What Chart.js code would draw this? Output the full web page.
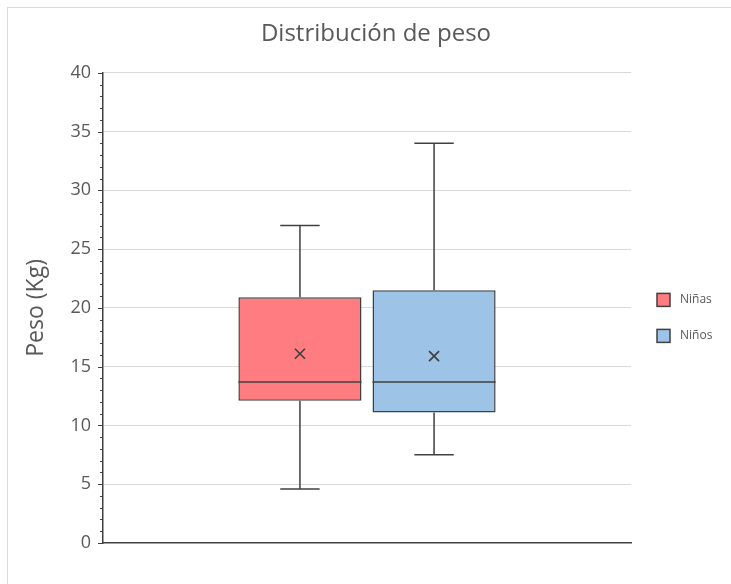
<!DOCTYPE html>
<html>
<head>
<meta charset="utf-8">
<script src="https://cdn.jsdelivr.net/npm/chart.js@4"></script>
<style>
  html, body { margin: 0; padding: 0; background: #ffffff; }
  #frame { position: absolute; left: 7px; top: 7px; width: 740px; height: 600px; border: 1px solid #d9d9d9; box-sizing: border-box; }
  #wrap { position: absolute; left: 0; top: 0; width: 731px; height: 584px; }
</style>
</head>
<body>
<div id="frame"></div>
<div id="wrap"><canvas id="c" width="731" height="584"></canvas></div>
<script>
const categories = [''];
const seriesNames = ['Niñas', 'Niños'];
const minVals = [4.6, 7.5];
const q1Vals = [12.1, 11.1];
const medianVals = [13.7, 13.7];
const q3Vals = [20.9, 21.5];
const maxVals = [27, 34];
const meanVals = [16.1, 15.9];
const fillColors = ['#ff7c80', '#9dc3e6'];
const yTicks = [0, 5, 10, 15, 20, 25, 30, 35, 40];

const TEXT = '#595959';
const LINE = '#404040';

const boxPlugin = {
  id: 'boxParts',
  afterDatasetsDraw(chart) {
    const ctx = chart.ctx;
    const y = chart.scales.y;
    chart.data.datasets.forEach((ds, i) => {
      const meta = chart.getDatasetMeta(i);
      meta.data.forEach((bar) => {
        const x = bar.x;
        const w = bar.width;
        const capHalf = w * 0.16;
        ctx.save();
        ctx.strokeStyle = LINE;
        ctx.lineWidth = 1.5;
        const yMax = y.getPixelForValue(maxVals[i]);
        const yMin = y.getPixelForValue(minVals[i]);
        const yQ3 = y.getPixelForValue(q3Vals[i]);
        const yQ1 = y.getPixelForValue(q1Vals[i]);
        ctx.beginPath();
        ctx.moveTo(x, yQ3); ctx.lineTo(x, yMax);
        ctx.moveTo(x - capHalf, yMax); ctx.lineTo(x + capHalf, yMax);
        ctx.moveTo(x, yQ1); ctx.lineTo(x, yMin);
        ctx.moveTo(x - capHalf, yMin); ctx.lineTo(x + capHalf, yMin);
        ctx.stroke();
        const yMed = y.getPixelForValue(medianVals[i]);
        ctx.beginPath();
        ctx.moveTo(x - w / 2, yMed); ctx.lineTo(x + w / 2, yMed);
        ctx.stroke();
        const yMean = y.getPixelForValue(meanVals[i]);
        const s = 5;
        ctx.lineWidth = 1.7;
        ctx.beginPath();
        ctx.moveTo(x - s, yMean - s); ctx.lineTo(x + s, yMean + s);
        ctx.moveTo(x + s, yMean - s); ctx.lineTo(x - s, yMean + s);
        ctx.stroke();
        ctx.restore();
      });
    });
  }
};

const minorTicks = {
  id: 'minorTicks',
  afterDraw(chart) {
    const ctx = chart.ctx;
    const y = chart.scales.y;
    const left = chart.chartArea.left;
    ctx.save();
    ctx.strokeStyle = LINE;
    ctx.lineWidth = 1;
    ctx.beginPath();
    for (let v = y.min; v <= y.max; v += 1) {
      const py = Math.round(y.getPixelForValue(v)) + 0.5;
      const len = (v % 5 === 0) ? 5 : 3;
      ctx.moveTo(left - len, py); ctx.lineTo(left, py);
    }
    ctx.stroke();
    ctx.restore();
  }
};

const sideLegend = {
  id: 'sideLegend',
  afterDraw(chart) {
    const ctx = chart.ctx;
    const area = chart.chartArea;
    const x0 = area.right + 26;
    const midY = (area.top + area.bottom) / 2 + 10;
    const step = 36;
    const n = chart.data.datasets.length;
    ctx.save();
    ctx.font = '12px "Open Sans"';
    ctx.textBaseline = 'middle';
    chart.data.datasets.forEach((ds, i) => {
      const cy = midY + (i - (n - 1) / 2) * step;
      ctx.fillStyle = ds.backgroundColor;
      ctx.fillRect(x0, cy - 6.5, 13, 13);
      ctx.strokeStyle = LINE;
      ctx.lineWidth = 1.5;
      ctx.strokeRect(x0, cy - 6.5, 13, 13);
      ctx.fillStyle = TEXT;
      ctx.fillText(ds.label, x0 + 23, cy);
    });
    ctx.restore();
  }
};

new Chart(document.getElementById('c'), {
  type: 'bar',
  data: {
    labels: categories,
    datasets: seriesNames.map((name, i) => ({
      label: name,
      data: [[q1Vals[i], q3Vals[i]]],
      backgroundColor: fillColors[i],
      borderColor: LINE,
      borderWidth: 1.5,
      borderSkipped: false,
      categoryPercentage: 0.508,
      barPercentage: 0.918
    }))
  },
  options: {
    responsive: false,
    animation: false,
    layout: { padding: { left: 21, right: 0, top: 8, bottom: 3 } },
    plugins: {
      title: {
        display: true,
        text: 'Distribución de peso',
        color: TEXT,
        font: { family: 'Open Sans', size: 24, weight: 'normal' },
        padding: { top: 12, bottom: 24 }
      },
      legend: { display: false },
      tooltip: { enabled: false }
    },
    scales: {
      x: {
        grid: { display: false },
        border: { display: true, color: LINE, width: 1.5 },
        ticks: { display: false },
        afterFit(scale) { scale.height = 38; }
      },
      y: {
        min: 0,
        max: 40,
        afterBuildTicks(scale) { scale.ticks = yTicks.map(v => ({ value: v })); },
        afterFit(scale) { scale.width = 82; },
        grid: {
          color: ctx => (ctx.tick && ctx.tick.value === 0) ? 'rgba(0,0,0,0)' : '#d9d9d9',
          lineWidth: 1,
          drawTicks: false
        },
        border: { display: true, color: LINE, width: 1.5 },
        ticks: {
          color: TEXT,
          font: { family: 'Open Sans', size: 18 },
          padding: 12
        },
        title: {
          display: true,
          text: 'Peso (Kg)',
          color: TEXT,
          font: { family: 'Open Sans', size: 23 },
          padding: { top: 2, bottom: 0 }
        }
      },
      y2: {
        position: 'right',
        min: 0,
        max: 40,
        grid: { display: false, drawOnChartArea: false },
        border: { display: false },
        ticks: { display: false },
        afterFit(scale) { scale.width = 100; }
      }
    }
  },
  plugins: [boxPlugin, minorTicks, sideLegend]
});
</script>
</body>
</html>
